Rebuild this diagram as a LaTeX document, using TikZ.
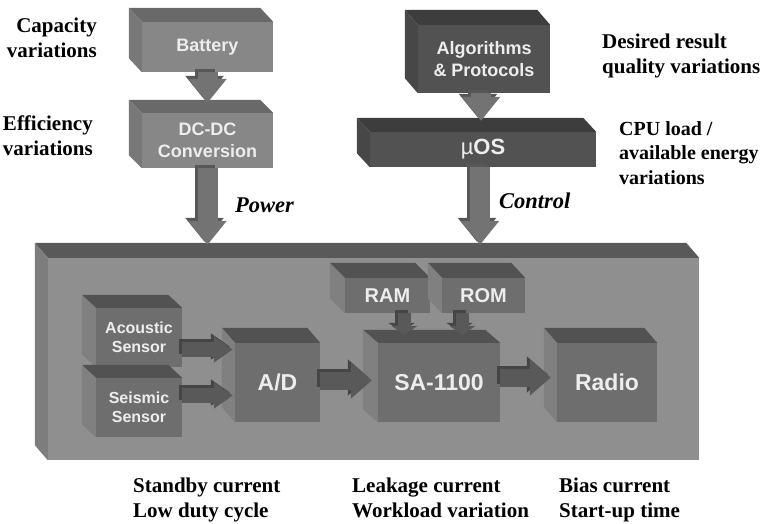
\documentclass[tikz,border=0pt]{standalone}
\usepackage{fontspec}
\setmainfont{Liberation Serif}
\newfontfamily\boxfont{Liberation Sans}
\usetikzlibrary{arrows.meta}
\definecolor{mainfront}{gray}{0.56}
\definecolor{maintop}{gray}{0.35}
\definecolor{mainside}{gray}{0.49}
\definecolor{pwrfront}{gray}{0.53}
\definecolor{pwrtop}{gray}{0.41}
\definecolor{pwrside}{gray}{0.47}
\definecolor{ctlfront}{gray}{0.32}
\definecolor{ctltop}{gray}{0.24}
\definecolor{ctlside}{gray}{0.28}
\definecolor{infront}{gray}{0.43}
\definecolor{intop}{gray}{0.32}
\definecolor{inside}{gray}{0.50}
\definecolor{bigarr}{gray}{0.45}
\definecolor{bigarrs}{gray}{0.34}
\definecolor{smallarr}{gray}{0.35}
\definecolor{smallarrs}{gray}{0.27}
\definecolor{boxtext}{gray}{0.93}
\newcommand\cubefaces[5]{%
  \fill[#4] (#1.north west) -- ++(-#2,-#3) -- ([shift={(-#2,-#3)}]#1.north east) -- (#1.north east) -- cycle;
  \fill[#5] (#1.north west) -- ++(-#2,-#3) -- ([shift={(-#2,-#3)}]#1.south west) -- (#1.south west) -- cycle;}
\newcommand\flowarrow[4]{%
  \draw[#1,#3,transform canvas={shift={(-3pt,3pt)}}] #4;
  \draw[#1,#2] #4;}
\tikzset{
  front/.style={inner sep=0pt, text=boxtext, align=center},
  bigarrow/.style={line width=20pt, -{Triangle[length=24pt,width=37pt]}},
  midarrow/.style={line width=18pt, -{Triangle[length=21pt,width=35pt]}},
  sensarrow/.style={line width=15pt, -{Triangle[length=19pt,width=25pt]}},
  memarrow/.style={line width=13pt, -{Triangle[length=9pt,width=26pt]}},
  lbl/.style={inner sep=0pt, font=\fontsize{21}{24.5}\selectfont\bfseries},
  flowlbl/.style={inner sep=0pt, font=\fontsize{22.5}{26}\selectfont\bfseries\itshape}
}
\begin{document}
\begin{tikzpicture}[x=1pt,y=-1pt]
\useasboundingbox (0,0) rectangle (767,523);
% main board
\node[front, fill=mainfront, minimum width=651pt, minimum height=202pt] (main) at (373.5,359) {};
\cubefaces{main}{13}{15}{maintop}{mainside}
\coordinate (mainback) at ([yshift=13pt]main.north);
% inner boxes
\node[front, fill=infront, minimum width=85pt, minimum height=35pt, font=\boxfont\bfseries\fontsize{20}{23}\selectfont] (ram) at (387.5,295.5) {RAM};
\cubefaces{ram}{15}{15}{intop}{inside}
\node[front, fill=infront, minimum width=83pt, minimum height=35pt, font=\boxfont\bfseries\fontsize{20}{23}\selectfont] (rom) at (483.5,295.5) {ROM};
\cubefaces{rom}{14}{15}{intop}{inside}
\node[front, fill=infront, minimum width=86pt, minimum height=59pt, font=\boxfont\bfseries\fontsize{16}{19.5}\selectfont] (ac) at (139,337.5) {Acoustic\\Sensor};
\cubefaces{ac}{14}{13}{intop}{inside}
\node[front, fill=infront, minimum width=86pt, minimum height=59pt, font=\boxfont\bfseries\fontsize{16}{19.5}\selectfont] (se) at (139,407.5) {Seismic\\Sensor};
\cubefaces{se}{14}{13}{intop}{inside}
\node[front, fill=infront, minimum width=85pt, minimum height=79pt, font=\boxfont\bfseries\fontsize{23}{26}\selectfont] (ad) at (277.5,382.5) {A/D};
\cubefaces{ad}{13}{15}{intop}{inside}
\node[front, fill=infront, minimum width=122pt, minimum height=79pt, font=\boxfont\bfseries\fontsize{23}{26}\selectfont] (sa) at (439,382.5) {SA-1100};
\cubefaces{sa}{15}{13}{intop}{inside}
\node[front, fill=infront, minimum width=100pt, minimum height=79pt, font=\boxfont\bfseries\fontsize{23}{26}\selectfont] (radio) at (607,382.5) {Radio};
\cubefaces{radio}{13}{15}{intop}{inside}
% inner arrows
\coordinate (acout) at ([yshift=-12pt]ac.east);
\coordinate (seout) at ([yshift=12pt]se.east);
\coordinate (adin1) at ([xshift=-2pt]acout -| ad.west);
\coordinate (adin2) at ([xshift=-2pt]seout -| ad.west);
\flowarrow{sensarrow}{smallarr}{smallarrs}{(acout) -- (adin1)}
\flowarrow{sensarrow}{smallarr}{smallarrs}{(seout) -- (adin2)}
\coordinate (adout) at ([yshift=2pt]ad.east);
\coordinate (sain) at ([xshift=-6pt]adout -| sa.west);
\flowarrow{midarrow}{smallarr}{smallarrs}{(adout) -- (sain)}
\coordinate (saout) at ([yshift=5pt]sa.east);
\coordinate (radioin) at ([xshift=-6pt]saout -| radio.west);
\flowarrow{midarrow}{smallarr}{smallarrs}{(saout) -- (radioin)}
\coordinate (ramout) at ([xshift=17pt]ram.south);
\coordinate (romout) at ([xshift=-21pt]rom.south);
\coordinate (saback) at ([yshift=8pt]sa.north);
\flowarrow{memarrow}{smallarr}{smallarrs}{(ramout) -- (ramout |- saback)}
\flowarrow{memarrow}{smallarr}{smallarrs}{(romout) -- (romout |- saback)}
% power chain
\node[front, fill=pwrfront, minimum width=131pt, minimum height=50pt, font=\boxfont\bfseries\fontsize{18}{22}\selectfont] (bat) at (207.5,47) {Battery};
\cubefaces{bat}{13}{14}{pwrtop}{pwrside}
\node[front, fill=pwrfront, minimum width=131pt, minimum height=55pt, font=\boxfont\bfseries\fontsize{18}{22}\selectfont] (dc) at (207.5,140.5) {DC-DC\\Conversion};
\cubefaces{dc}{13}{13}{pwrtop}{pwrside}
\coordinate (dcback) at ([yshift=10pt]dc.north);
\flowarrow{bigarrow}{bigarr}{bigarrs}{(bat.south) -- (dcback)}
\flowarrow{bigarrow}{bigarr}{bigarrs}{(dc.south) -- (dc.south |- mainback)}
% control chain
\node[front, fill=ctlfront, minimum width=132pt, minimum height=68pt, font=\boxfont\bfseries\fontsize{18}{21.5}\selectfont] (alg) at (484,59) {Algorithms\\\& Protocols};
\cubefaces{alg}{13}{15}{ctltop}{ctlside}
\node[front, fill=ctlfront, minimum width=226pt, minimum height=35pt, font=\boxfont\bfseries\fontsize{22}{25}\selectfont] (uos) at (483,149.5) {{\mdseries µ}OS};
\cubefaces{uos}{13}{14}{ctltop}{ctlside}
\coordinate (uosback) at ([yshift=11pt]uos.north);
\flowarrow{bigarrow}{bigarr}{bigarrs}{([xshift=-3pt]alg.south) -- ([xshift=-3pt]alg.south |- uosback)}
\flowarrow{bigarrow}{bigarr}{bigarrs}{([xshift=-3pt]uos.south) -- ([xshift=-3pt]uos.south |- mainback)}
% labels (base anchor = baseline of the last line)
\node[lbl, anchor=base east, align=right] (cap) at (97,57) {Capacity\\variations};
\node[lbl, anchor=base east, align=right] (eff) at (93,155) {Efficiency\\variations};
\node[lbl, anchor=base west, align=left] (des) at (602,73) {Desired result\\quality variations};
\node[lbl, anchor=base west, align=left, font=\fontsize{20}{24.5}\selectfont\bfseries] (cpu) at (619,184) {CPU load /\\available energy\\variations};
\node[flowlbl, anchor=base west] (pow) at (235,212) {Power};
\node[flowlbl, anchor=base west] (ctl) at (499,208) {Control};
\node[lbl, anchor=base west, align=left] (stb) at (133,517) {Standby current\\Low duty cycle};
\node[lbl, anchor=base west, align=left] (leak) at (352,517) {Leakage current\\Workload variation};
\node[lbl, anchor=base west, align=left] (bias) at (559,517) {Bias current\\Start-up time};
\end{tikzpicture}
\end{document}
